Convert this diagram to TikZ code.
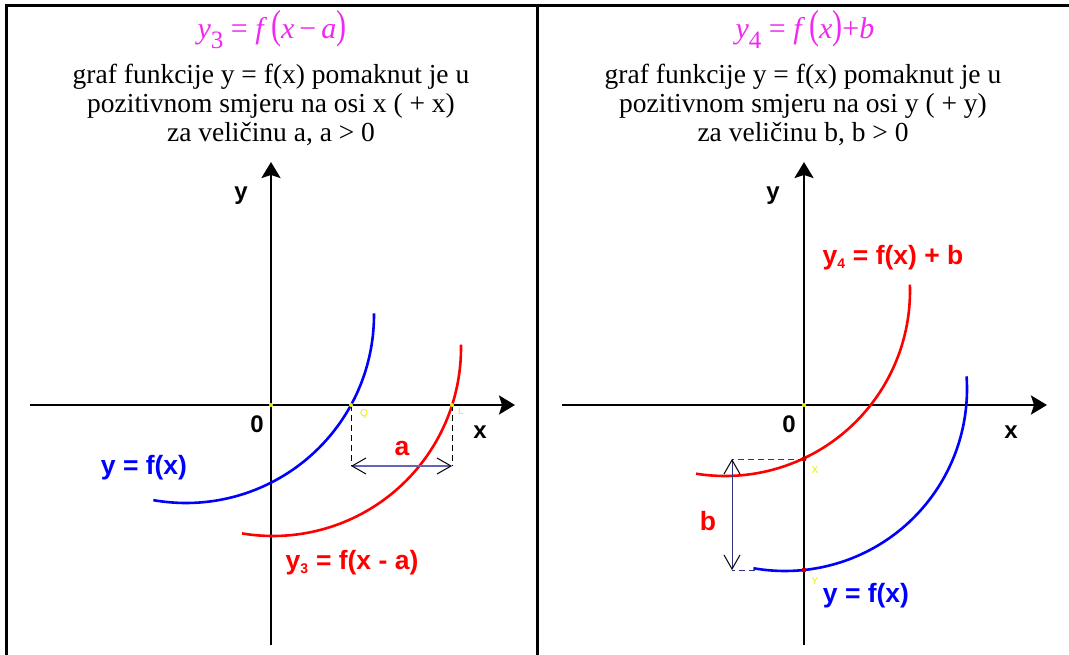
\documentclass[tikz,border=0pt]{standalone}
\usepackage{fontspec}
\usepackage{graphicx}
\setmainfont{Liberation Serif}
\newfontfamily\arialf{Liberation Sans}
\usetikzlibrary{arrows.meta}
\definecolor{mag}{RGB}{240,40,240}
\definecolor{ylw}{RGB}{235,235,0}
\definecolor{dimblue}{RGB}{100,100,185}
\definecolor{navy}{RGB}{50,50,130}
\definecolor{cblue}{RGB}{0,0,255}
\definecolor{cred}{RGB}{255,0,0}
\begin{document}
\begin{tikzpicture}[x=1pt,y=-1pt,
  axisline/.style={line width=2.6pt,-{Stealth[length=16pt,width=19pt,inset=3pt]}},
  curveline/.style={line width=2.6pt},
  axlbl/.style={font=\arialf\bfseries\fontsize{24}{28}\selectfont},
  crvlbl/.style={font=\arialf\bfseries\fontsize{26.5}{30}\selectfont},
  desc/.style={font=\fontsize{27.5}{31}\selectfont, anchor=base},
  ttl/.style={font=\fontsize{30}{33}\selectfont, text=mag, anchor=base},
  tinylbl/.style={font=\arialf\fontsize{10}{11}\selectfont, text=ylw},
  dimarr/.style={{Straight Barb[length=14pt,width=16pt,line width=1pt,color=black]}-{Straight Barb[length=14pt,width=16pt,line width=1pt,color=black]}},
  dashln/.style={line width=0.9pt, dash pattern=on 6pt off 4pt}
]
\useasboundingbox (0,0) rectangle (1069,655);
\fill[white] (0,0) rectangle (1069,655);
% table lines
\draw[line width=3pt] (6,655) -- (6,6) -- (1069,6);
\draw[line width=3pt] (537.5,6) -- (537.5,655);

% ---------------- left panel ----------------
\node[ttl] (t3) at (272,39) {\itshape y\raisebox{-10pt}{\upshape\fontsize{25}{28}\selectfont 3} \upshape= \itshape f \scalebox{1}[1.35]{\upshape(}x\upshape\,−\,\itshape a\scalebox{1}[1.35]{\upshape)}};
\node[desc] (d1) at (271,84) {graf funkcije y = f(x) pomaknut je u};
\node[desc] (d2) at (271,113) {pozitivnom smjeru na osi x ( + x)};
\node[desc] (d3) at (271,142) {za veličinu a, a > 0};

\coordinate (LyB) at (271,645);
\coordinate (LyT) at (271,162);
\coordinate (LxL) at (30,405);
\coordinate (LxR) at (515,405);
\draw[axisline] (LyB) -- (LyT);
\draw[axisline] (LxL) -- (LxR);
\node[axlbl] (ly) at (241,196) {y};
\node[axlbl] (l0) at (257,424) {0};
\node[axlbl] (lx) at (480,432) {x};

% curves
\draw[curveline, cblue] plot[domain=100:-0.5, samples=80] ({186+188*cos(\x)}, {315+188*sin(\x)});
\draw[curveline, cred] plot[domain=99.5:-1, samples=80] ({273+188*cos(\x)}, {348+188*sin(\x)});

\coordinate (Q) at (351,405);
\coordinate (L) at (452,405);
\coordinate (Qd) at (351,466);
\coordinate (Ld) at (452,466);
\draw[dashln] (Q) -- (Qd);
\draw[dashln] (L) -- (Ld);
\draw[dimarr, dimblue, line width=1.8pt] (Qd) -- (Ld);
\fill[ylw] (271,405) circle (2);
\fill[ylw] (Q) circle (2);
\fill[ylw] (L) circle (2);
\node[tinylbl] (lq) at (364,414) {Q};
\node[tinylbl] (ll) at (461,411) {L};
\node[crvlbl, text=cred] (la) at (402,448) {a};
\node[crvlbl, text=cblue] (lf) at (144,468) {y = f(x)};
\node[crvlbl, text=cred] (lf3) at (352,563) {y\textsubscript{\fontsize{14}{15}\selectfont 3} = f(x - a)};

% ---------------- right panel ----------------
\node[ttl] (t4) at (805,39) {\itshape y\raisebox{-10pt}{\upshape\fontsize{25}{28}\selectfont 4} \upshape= \itshape f \scalebox{1}[1.35]{\upshape(}x\scalebox{1}[1.35]{\upshape)}\upshape+\itshape b};
\node[desc] (e1) at (803,84) {graf funkcije y = f(x) pomaknut je u};
\node[desc] (e2) at (803,113) {pozitivnom smjeru na osi y ( + y)};
\node[desc] (e3) at (803,142) {za veličinu b, b > 0};

\coordinate (RyB) at (804,645);
\coordinate (RyT) at (804,162);
\coordinate (RxL) at (562,405);
\coordinate (RxR) at (1047,405);
\draw[axisline] (RyB) -- (RyT);
\draw[axisline] (RxL) -- (RxR);
\node[axlbl] (ry) at (773,196) {y};
\node[axlbl] (r0) at (789,424) {0};
\node[axlbl] (rx) at (1011,432) {x};

\draw[curveline, cred] plot[domain=99:-2, samples=80] ({725+185*cos(\x)}, {291+185*sin(\x)});
\draw[curveline, cblue] plot[domain=100:-4, samples=80] ({785+182*cos(\x)}, {389+182*sin(\x)});

\coordinate (X) at (804,459);
\coordinate (Y) at (804,570);
\coordinate (Xd) at (732,459);
\coordinate (Yd) at (732,570);
\coordinate (Ye) at (755,570);
\draw[dashln, navy] (X) -- (Xd);
\draw[dashln, navy] (Ye) -- (Yd);
\draw[dimarr, navy, line width=1pt] (Xd) -- (Yd);
\fill[ylw] (804,405) circle (2);
\fill[cred!80!black] (X) circle (2.5);
\fill[cred!80!black] (Y) circle (2.5);
\node[tinylbl] (lx2) at (815,470) {X};
\node[tinylbl] (ly2) at (815,581) {Y};
\node[crvlbl, text=cred] (lb) at (708,521) {b};
\node[crvlbl, text=cred] (lf4) at (893,258) {y\textsubscript{\fontsize{14}{15}\selectfont 4} = f(x) + b};
\node[crvlbl, text=cblue] (lf2) at (866,596) {y = f(x)};
\end{tikzpicture}
\end{document}
